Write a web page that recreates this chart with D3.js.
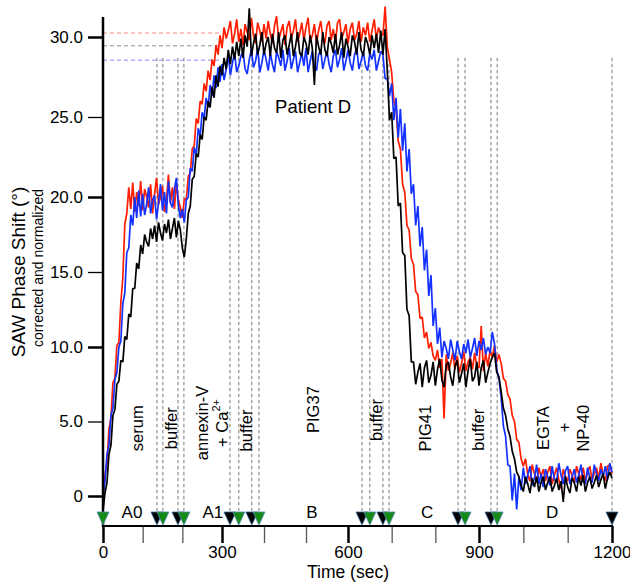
<!DOCTYPE html>
<html>
<head>
<meta charset="utf-8">
<script src="https://cdn.jsdelivr.net/npm/d3@7"></script>
<style>
  body { margin: 0; background: #fff; }
  svg { display: block; }
  text { font-family: "Liberation Sans", Arial, sans-serif; fill: #000; }
</style>
</head>
<body>
<svg id="chart" width="630" height="585"></svg>
<script>
// ---- recorded traces: one sample every 5 s from 0 to 1200 s ----
const sampleStep = 5;

const redTrace = [
  -0.5, 1.4, 2.2, 4.5, 5.2, 7.6, 7.9, 10.1, 10.3, 13.0,
  14.6, 18.2, 18.9, 20.6, 19.2, 20.9, 19.0, 20.3, 19.4, 21.0,
  19.1, 20.5, 20.0, 19.3, 20.8, 18.9, 20.2, 21.2, 19.5, 20.0,
  20.7, 19.0, 19.8, 21.4, 19.6, 20.6, 19.2, 20.9, 19.8, 19.3,
  18.6, 19.9, 19.8, 21.3, 21.5, 23.0, 23.2, 24.9, 24.6, 26.0,
  25.8, 27.1, 26.6, 27.9, 27.3, 28.6, 28.2, 29.5, 28.9, 30.1,
  29.3, 30.6, 29.9, 30.4, 31.0, 29.6, 30.2, 31.1, 29.7, 30.5,
  29.5, 30.8, 30.3, 29.8, 31.2, 30.1, 29.6, 30.9, 30.4, 29.7,
  30.8, 29.9, 31.0, 30.2, 29.6, 30.7, 31.3, 29.8, 30.3, 30.8,
  29.5, 30.6, 31.0, 29.9, 30.4, 31.1, 29.7, 30.2, 30.9, 29.8,
  30.6, 31.2, 29.7, 30.1, 30.8, 29.6, 30.4, 31.0, 30.0, 29.6,
  30.7, 31.0, 29.8, 30.5, 29.6, 30.9, 31.1, 29.9, 30.3, 30.8,
  29.6, 30.5, 30.9, 29.8, 30.2, 31.0, 29.7, 30.6, 30.1, 30.9,
  29.7, 30.4, 31.1, 29.9, 30.6, 30.2, 30.1, 31.9, 29.4, 28.6,
  27.8, 26.0, 25.6, 23.5, 23.0, 20.8, 20.3, 18.1, 17.8, 15.9,
  15.5, 13.7, 13.5, 11.9, 12.0, 10.6, 11.0, 9.9, 10.3, 9.4,
  9.1, 9.8, 8.6, 9.2, 5.2, 9.5, 8.4, 8.9, 9.6, 8.5,
  9.4, 8.3, 8.9, 9.7, 8.4, 9.0, 9.3, 8.5, 9.6, 8.7,
  8.6, 11.4, 8.4, 9.6, 8.7, 9.8, 9.3, 10.1, 9.0, 9.5,
  8.9, 7.9, 7.7, 6.8, 6.5, 5.4, 5.0, 3.8, 3.6, 2.5,
  2.0, 2.5, 1.4, 1.0, 2.1, 1.5, 0.9, 1.9, 1.3, 1.8,
  1.0, 1.6, 2.0, 0.8, 1.4, 1.9, 1.1, 0.5, 1.8, 1.3,
  1.0, 1.8, 1.4, 0.9, 2.0, 1.5, 1.1, 1.9, 1.0, 1.6,
  2.0, 1.1, 1.5, 1.9, 1.2, 2.2, 1.4, 1.0, 2.0, 2.1,
  1.5
];

const blueTrace = [
  0.0, 1.0, 2.8, 3.4, 5.4, 5.9, 7.8, 8.3, 10.0, 10.4,
  12.9, 13.6, 16.3, 16.6, 18.8, 18.1, 20.0, 18.6, 20.4, 18.7,
  20.2, 18.8, 19.5, 20.6, 18.9, 19.8, 20.1, 18.5, 19.6, 20.8,
  19.1, 20.3, 18.9, 21.0, 19.6, 19.3, 20.5, 21.2, 19.4, 18.6,
  19.2, 18.3, 19.8, 20.0, 21.8, 21.6, 23.1, 22.6, 24.3, 23.8,
  25.3, 24.9, 26.2, 25.6, 27.0, 26.3, 27.6, 26.8, 28.1, 27.2,
  28.3, 27.3, 28.0, 28.9, 27.6, 28.4, 29.0, 27.8, 28.2, 28.8,
  29.1, 28.0, 27.7, 28.6, 29.2, 28.1, 28.5, 29.3, 27.8, 28.4,
  29.2, 28.6, 27.9, 29.0, 28.3, 27.8, 29.1, 28.7, 28.2, 29.2,
  27.9, 28.5, 29.3, 28.0, 28.6, 29.1, 27.8, 28.4, 29.0, 28.2,
  29.3, 27.8, 28.5, 29.1, 28.2, 27.9, 28.9, 29.2, 28.0, 28.6,
  29.1, 28.3, 27.8, 28.8, 29.2, 28.1, 28.6, 29.3, 27.9, 28.5,
  29.2, 28.4, 27.9, 28.9, 29.3, 28.0, 28.5, 29.1, 28.2, 27.9,
  29.0, 28.6, 29.2, 27.9, 28.5, 29.1, 28.9, 27.4, 27.4, 26.3,
  27.1, 24.8, 26.2, 23.7, 25.5, 22.9, 24.6, 21.6, 23.0, 20.2,
  20.8, 18.1, 19.4, 16.7, 18.0, 15.1, 16.5, 13.4, 14.8, 11.4,
  12.6, 10.2, 11.3, 9.3, 10.4, 9.9, 9.2, 10.5, 9.8, 9.1,
  10.4, 9.7, 9.2, 10.2, 9.6, 10.5, 9.3, 9.9, 10.6, 9.4,
  10.4, 9.8, 10.6, 9.5, 10.0, 9.6, 11.0, 10.2, 8.5, 7.9,
  6.6, 4.7, 4.0, 2.1, 2.0, -0.3, 1.5, -0.9, 1.3, 0.4,
  1.9, 0.8, 1.4, 2.0, 0.7, 1.2, 2.1, 0.8, 1.5, 0.6,
  1.8, 1.3, 0.7, 2.0, 1.1, 0.9, 2.2, 1.4, 0.8, 1.7,
  2.0, 0.8, 1.3, 1.8, 0.9, 1.4, 2.1, 1.0, 0.8, 1.9,
  1.2, 0.9, 2.1, 1.5, 1.0, 1.8, 1.3, 2.0, 1.1, 2.2,
  1.6
];

const blackTrace = [
  -1.0, 0.2, 0.9, 2.8, 3.4, 5.4, 5.8, 7.5, 7.7, 9.1,
  9.0, 10.7, 10.5, 12.2, 12.0, 13.9, 13.9, 15.6, 15.2, 16.8,
  16.2, 17.5, 17.0, 16.7, 17.9, 17.2, 18.1, 17.0, 18.3, 17.6,
  17.1, 18.2, 17.6, 18.5, 17.2, 17.9, 18.6, 17.3, 18.4, 17.8,
  16.6, 16.0, 17.2, 18.9, 19.4, 21.1, 21.3, 22.7, 22.5, 23.9,
  23.6, 25.0, 24.8, 26.0, 25.6, 26.9, 26.2, 27.6, 26.9, 28.2,
  27.6, 28.7, 28.0, 29.2, 28.3, 29.4, 28.6, 29.7, 28.8, 29.9,
  28.7, 30.1, 29.4, 31.8, 28.8, 29.6, 30.2, 28.9, 29.5, 30.3,
  28.9, 29.6, 30.0, 28.8, 30.2, 29.3, 29.0, 30.3, 28.7, 29.8,
  30.1, 28.9, 29.5, 30.2, 28.8, 29.4, 30.3, 29.0, 28.8, 30.0,
  29.6, 28.9, 30.1, 29.3, 27.0, 30.1, 29.4, 28.9, 30.3, 29.2,
  28.8, 30.0, 29.6, 29.0, 30.2, 28.9, 29.5, 30.3, 28.7, 29.9,
  29.4, 28.8, 30.1, 29.7, 28.9, 30.3, 29.2, 28.8, 30.0, 29.6,
  28.9, 30.1, 29.3, 30.2, 29.0, 30.4, 28.9, 30.5, 27.9, 24.8,
  25.3, 22.4, 22.5, 19.4, 19.6, 16.3, 16.1, 12.5, 12.1, 9.0,
  9.0, 7.5, 8.3, 8.9, 7.3, 8.6, 9.1, 7.6, 8.1, 9.0,
  7.4, 8.5, 9.2, 7.8, 7.3, 8.8, 9.0, 8.0, 7.4, 8.7,
  9.1, 7.6, 8.2, 8.9, 7.3, 8.4, 9.2, 7.7, 8.0, 9.0,
  7.4, 8.6, 9.1, 7.6, 8.3, 8.9, 9.3, 9.6, 8.3, 8.0,
  7.0, 5.9, 5.4, 4.5, 4.0, 3.0, 2.5, 1.6, 1.3, 0.7,
  0.3, 1.3, 0.8, 0.2, 1.2, 0.6, 1.3, 0.3, 0.9, 1.3,
  0.4, 0.9, 1.3, 0.3, 0.7, 1.2, 0.4, 1.0, -0.4, 1.3,
  0.6, 0.2, 1.2, 0.9, 0.3, 1.3, 0.7, 1.4, 0.3, 0.9,
  1.3, 0.5, 0.9, 1.4, 0.6, 1.1, 1.5, 0.5, 1.2, 1.6,
  1.2
];

// ---- axes ----
const xMajorTicks = [0, 300, 600, 900, 1200];
const xMinorTicks = [100, 200, 400, 500, 700, 800, 1000, 1100];
const yMajorTicks = [0, 10, 20, 30];
const yMinorTicks = [5, 15, 25];
const yTickLabels = { 0: "0", 5: "5.0", 10: "10.0", 15: "15.0", 20: "20.0", 25: "25.0", 30: "30.0" };

// ---- events (s): buffer/rinse starts and sample injections ----
const rinseTimes = [136, 189, 319, 371, 632, 680, 852, 927, 1200];
const injectTimes = [0, 151, 204, 340, 388, 650, 694, 868, 941];

// plateau reference levels (°)
const plateauValues = [30.25, 29.45, 28.55];
const plateauColors = ["#ff8a80", "#8c8c8c", "#8a8cff"];

// phase letters along the time axis
const phaseNames = ["A0", "A1", "B", "C", "D"];
const phaseTimes = [73, 277, 514, 781, 1065];

// step annotations (rotated), time and vertical centre in degrees
const stepNames = ["serum", "buffer", "annexin-V", "+ Ca", "buffer", "PIG37", "buffer", "PIG41", "buffer", "EGTA", "+", "NP-40"];
const stepTimes = [87, 171, 250, 300, 357, 517, 664, 776, 898, 1044, 1092, 1136];
const stepLevels = [4.55, 4.55, 4.9, 4.9, 4.4, 5.8, 5.1, 4.55, 4.45, 4.55, 4.6, 4.55];

// ---- scales ----
const x = d3.scaleLinear()
  .domain([0, 300, 600, 900, 1200])
  .range([103, 222, 348, 479, 612]);
const y = d3.scaleLinear()
  .domain([0, 10, 20, 30])
  .range([496, 347, 197, 37]);

const svg = d3.select("#chart");

// plateau reference lines
svg.append("g").selectAll("line")
  .data(plateauValues)
  .join("line")
  .attr("x1", x(0)).attr("x2", x(300))
  .attr("y1", d => y(d)).attr("y2", d => y(d))
  .attr("stroke", (d, i) => plateauColors[i])
  .attr("stroke-width", 1)
  .attr("stroke-dasharray", "4,3");

// event guide lines
const eventTimes = rinseTimes.concat(injectTimes.filter(t => t > 0));
svg.append("g").selectAll("line")
  .data(eventTimes)
  .join("line")
  .attr("x1", d => x(d)).attr("x2", d => x(d))
  .attr("y1", y(28.7)).attr("y2", 511)
  .attr("stroke", "#7a7a7a")
  .attr("stroke-width", 1)
  .attr("stroke-dasharray", "3.5,2.5");

// traces
const line = d3.line()
  .x((d, i) => x(i * sampleStep))
  .y(d => y(d));

[[redTrace, "#ff1e00"], [blueTrace, "#1432ff"], [blackTrace, "#000000"]].forEach(([data, color]) => {
  svg.append("path")
    .datum(data)
    .attr("d", line)
    .attr("fill", "none")
    .attr("stroke", color)
    .attr("stroke-width", 1.7)
    .attr("stroke-linejoin", "bevel");
});

// y axis
const yAxisG = svg.append("g").attr("transform", "translate(103,0)");
yAxisG.call(d3.axisLeft(y)
  .tickValues(yMajorTicks.concat(yMinorTicks))
  .tickSize(15)
  .tickPadding(5)
  .tickFormat(d => yTickLabels[d]));
yAxisG.select(".domain").remove();
yAxisG.selectAll(".tick line")
  .attr("stroke", "#000")
  .attr("stroke-width", d => yMajorTicks.includes(d) ? 2.5 : 1.3);
yAxisG.selectAll(".tick text")
  .attr("font-size", 17)
  .attr("font-family", "Liberation Sans, Arial, sans-serif");
svg.append("line")
  .attr("x1", 103).attr("x2", 103)
  .attr("y1", 17).attr("y2", 527)
  .attr("stroke", "#000").attr("stroke-width", 2.5);

// x axis
const xAxisG = svg.append("g").attr("transform", "translate(0,526)");
xAxisG.call(d3.axisBottom(x)
  .tickValues(xMajorTicks.concat(xMinorTicks))
  .tickSize(17)
  .tickPadding(3)
  .tickFormat(d => xMajorTicks.includes(d) ? String(d) : ""));
xAxisG.select(".domain").remove();
xAxisG.selectAll(".tick line")
  .attr("stroke", d => xMajorTicks.includes(d) ? "#000" : "#555")
  .attr("stroke-width", d => xMajorTicks.includes(d) ? 2.5 : 1.3);
xAxisG.selectAll(".tick text")
  .attr("font-size", 17)
  .attr("font-family", "Liberation Sans, Arial, sans-serif");
svg.append("line")
  .attr("x1", 102).attr("x2", 613)
  .attr("y1", 526).attr("y2", 526)
  .attr("stroke", "#000").attr("stroke-width", 2);

// axis titles
svg.append("text")
  .attr("x", 348).attr("y", 578)
  .attr("text-anchor", "middle")
  .attr("font-size", 17.5)
  .text("Time (sec)");
svg.append("text")
  .attr("transform", "translate(25,272) rotate(-90)")
  .attr("text-anchor", "middle")
  .attr("font-size", 19)
  .text("SAW Phase Shift (°)");
svg.append("text")
  .attr("transform", "translate(43,268) rotate(-90)")
  .attr("text-anchor", "middle")
  .attr("font-size", 14)
  .text("corrected and normalized");

// panel title
svg.append("text")
  .attr("x", x(517)).attr("y", 113)
  .attr("text-anchor", "middle")
  .attr("font-size", 18.5)
  .text("Patient D");

// step annotations
const stepG = svg.append("g");
stepNames.forEach((name, i) => {
  const t = stepG.append("text")
    .attr("transform", `translate(${x(stepTimes[i])},${y(stepLevels[i])}) rotate(-90)`)
    .attr("text-anchor", "middle")
    .attr("dy", "0.35em")
    .attr("font-size", 16.5);
  if (name === "+ Ca") {
    t.append("tspan").text("+ Ca");
    t.append("tspan").attr("font-size", 11).attr("dy", "-0.75em").text("2+");
  } else {
    t.text(name);
  }
});

// phase letters
svg.append("g").selectAll("text")
  .data(phaseNames)
  .join("text")
  .attr("x", (d, i) => x(phaseTimes[i]))
  .attr("y", 518)
  .attr("text-anchor", "middle")
  .attr("font-size", 17)
  .text(d => d);

// event markers
const tri = "M-6,-6L6,-6L0,7Z";
svg.append("g").selectAll("path")
  .data(rinseTimes)
  .join("path")
  .attr("d", tri)
  .attr("transform", d => `translate(${x(d)},518)`)
  .attr("fill", "#000")
  .attr("stroke", "#3d6f9e")
  .attr("stroke-width", 0.8);
svg.append("g").selectAll("path")
  .data(injectTimes)
  .join("path")
  .attr("d", tri)
  .attr("transform", d => `translate(${x(d)},518)`)
  .attr("fill", "#158a15")
  .attr("stroke", "#4f86b8")
  .attr("stroke-width", 0.8);
</script>
</body>
</html>
